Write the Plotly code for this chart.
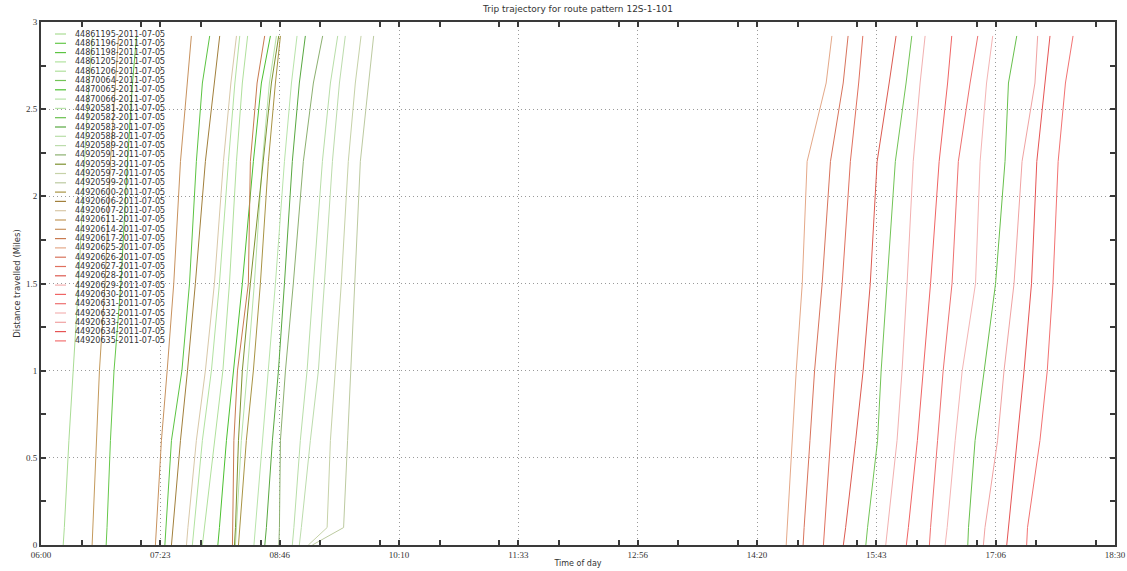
import plotly.graph_objects as go

service_date = "2011-07-05"
chart_title = "Trip trajectory for route pattern 12S-1-101"
x_title = "Time of day"
y_title = "Distance travelled (Miles)"

# Distance along the route (miles) at which each trip's passing time is logged
stop_miles = [0, 0.1, 0.6, 1.0, 1.5, 2.2, 2.65, 2.92]

trip_ids = [
    "44861195", "44861196", "44861198", "44861205", "44861206",
    "44870064", "44870065", "44870066", "44920581", "44920582",
    "44920583", "44920588", "44920589", "44920591", "44920593",
    "44920597", "44920599", "44920600", "44920606", "44920607",
    "44920611", "44920614", "44920617", "44920625", "44920626",
    "44920627", "44920628", "44920629", "44920630", "44920631",
    "44920632", "44920633", "44920634", "44920635",
]

trip_colors = [
    "#a9dc94", "#66c84a", "#5cc442", "#b2e2a0", "#b0e09c",
    "#72c456", "#4cc030", "#b6e2a8", "#b8e4aa", "#68c04c",
    "#58a840", "#b8dea8", "#bcdcac", "#8cb070", "#7e9230",
    "#c6d2a8", "#bccaa0", "#a89444", "#a2803c", "#d8c8a8",
    "#c49a5c", "#c8925e", "#c87a50", "#e4a888", "#d8735c",
    "#e0705e", "#dc5a50", "#f2b0b0", "#f06464", "#ee7070",
    "#f4b4b4", "#f0a2a2", "#e65454", "#f27272",
]

# Passing time of every trip at each entry of stop_miles
trip_times = [
    ["06:15:30", "06:16:18", "06:19:30", "06:22:18", "06:26:12", "06:30:24", "06:33:30", "06:35:54"],
    ["06:45:30", "06:46:06", "06:48:30", "06:51:00", "06:55:48", "07:00:24", "07:03:54", "07:06:42"],
    ["07:26:30", "07:27:12", "07:31:06", "07:38:24", "07:43:42", "07:48:30", "07:52:42", "07:57:48"],
    ["07:45:42", "07:46:48", "07:52:42", "07:59:00", "08:04:36", "08:10:54", "08:15:24", "08:18:48"],
    ["07:52:42", "07:54:06", "08:01:06", "08:07:00", "08:11:36", "08:16:30", "08:20:36", "08:24:18"],
    ["15:36:00", "15:37:12", "15:44:12", "15:46:42", "15:50:48", "15:56:36", "16:04:06", "16:08:06"],
    ["08:03:30", "08:04:36", "08:09:30", "08:14:24", "08:20:36", "08:28:18", "08:33:54", "08:40:12"],
    ["08:15:48", "08:16:30", "08:19:54", "08:24:06", "08:29:00", "08:34:36", "08:39:30", "08:44:24"],
    ["08:28:42", "08:29:42", "08:34:36", "08:38:48", "08:43:42", "08:50:00", "08:54:54", "08:58:48"],
    ["16:47:12", "16:47:42", "16:52:18", "16:58:30", "17:06:36", "17:13:12", "17:15:36", "17:21:24"],
    ["08:36:18", "08:37:24", "08:41:36", "08:45:48", "08:50:00", "08:55:30", "09:00:24", "09:04:36"],
    ["08:55:30", "08:56:36", "09:01:06", "09:05:48", "09:10:12", "09:16:30", "09:22:06", "09:27:12"],
    ["09:00:24", "09:01:48", "09:08:06", "09:13:42", "09:17:54", "09:23:30", "09:28:24", "09:32:30"],
    ["08:46:06", "08:46:30", "08:47:12", "08:50:42", "08:56:12", "09:03:12", "09:10:12", "09:16:42"],
    ["08:15:06", "08:15:48", "08:17:54", "08:20:36", "08:26:12", "08:35:00", "08:40:54", "08:46:00"],
    ["09:06:42", "09:19:48", "09:22:06", "09:25:36", "09:29:42", "09:34:36", "09:39:30", "09:43:30"],
    ["09:09:30", "09:31:18", "09:34:06", "09:36:24", "09:39:12", "09:43:00", "09:48:48", "09:52:18"],
    ["08:17:54", "08:18:54", "08:23:24", "08:28:18", "08:33:12", "08:38:48", "08:43:42", "08:47:12"],
    ["07:31:06", "07:32:06", "07:37:24", "07:42:18", "07:47:48", "07:54:48", "08:01:06", "08:04:48"],
    ["07:41:36", "07:42:36", "07:48:30", "07:54:48", "08:01:06", "08:07:24", "08:12:36", "08:16:30"],
    ["06:35:42", "06:36:12", "06:38:24", "06:40:48", "06:44:42", "06:48:30", "06:52:00", "06:54:06"],
    ["07:19:54", "07:20:36", "07:24:06", "07:28:06", "07:32:42", "07:37:24", "07:42:00", "07:45:00"],
    ["08:13:42", "08:13:48", "08:14:42", "08:17:12", "08:24:48", "08:26:12", "08:30:54", "08:36:12"],
    ["14:40:24", "14:41:06", "14:44:12", "14:47:24", "14:51:36", "14:55:00", "15:08:18", "15:12:18"],
    ["14:52:12", "14:52:54", "14:57:00", "15:00:12", "15:05:30", "15:11:18", "15:20:12", "15:23:36"],
    ["15:06:24", "15:07:12", "15:11:06", "15:14:36", "15:19:30", "15:25:12", "15:31:00", "15:33:54"],
    ["15:20:18", "15:21:54", "15:28:54", "15:34:06", "15:39:06", "15:43:54", "15:52:18", "15:57:06"],
    ["15:49:54", "15:51:12", "15:57:48", "16:01:18", "16:04:48", "16:09:06", "16:13:54", "16:17:24"],
    ["16:04:18", "16:05:42", "16:12:00", "16:16:12", "16:21:12", "16:27:12", "16:33:06", "16:36:00"],
    ["16:20:24", "16:21:12", "16:26:06", "16:30:00", "16:36:12", "16:40:36", "16:48:48", "16:54:12"],
    ["16:31:24", "16:32:48", "16:38:24", "16:43:18", "16:52:36", "16:55:48", "17:00:18", "17:04:36"],
    ["16:58:06", "16:59:12", "17:08:00", "17:12:30", "17:19:30", "17:25:06", "17:34:06", "17:36:00"],
    ["17:14:24", "17:15:36", "17:21:36", "17:26:30", "17:31:42", "17:35:24", "17:41:06", "17:44:36"],
    ["17:28:18", "17:28:54", "17:37:36", "17:42:42", "17:46:42", "17:50:18", "17:55:24", "18:00:42"],
]

W, H = 1127, 571
M_L, M_R, M_T, M_B = 41, 12, 22, 26
plot_w = W - M_L - M_R
plot_h = H - M_T - M_B

AXIS_COLOR = "#3a3a3a"
TEXT_COLOR = "#333333"
SANS = "DejaVu Sans"
SERIF = "Liberation Serif"

fig = go.Figure()

for tid, color, times in zip(trip_ids, trip_colors, trip_times):
    fig.add_trace(go.Scatter(
        x=[f"{service_date} {t}" for t in times],
        y=stop_miles,
        mode="lines",
        line=dict(color=color, width=1),
        name=f"{tid}-{service_date}",
        showlegend=False,
        hoverinfo="skip",
    ))

# Compact legend drawn inside the top-left corner of the axes
legend_top_px = 12      # first entry, measured down from the top of the axes
legend_step_px = 9.3
swatch_x0, swatch_x1, text_x = 14, 25, 32   # px from the left of the axes
annotations = []
shapes = []
for i, (tid, color) in enumerate(zip(trip_ids, trip_colors)):
    yp = 1 - (legend_top_px + i * legend_step_px) / plot_h
    shapes.append(dict(
        type="line", xref="paper", yref="paper",
        x0=swatch_x0 / plot_w, x1=swatch_x1 / plot_w, y0=yp, y1=yp,
        line=dict(color=color, width=1.2),
    ))
    annotations.append(dict(
        xref="paper", yref="paper", x=text_x / plot_w, y=yp,
        xanchor="left", yanchor="middle", showarrow=False,
        text=f"{tid}-{service_date}",
        font=dict(family=SANS, size=8, color=TEXT_COLOR),
    ))

axis_common = dict(
    showline=True, linecolor=AXIS_COLOR, linewidth=2, mirror="allticks",
    ticks="inside", ticklen=5, tickwidth=1.5, tickcolor=AXIS_COLOR,
    showgrid=True, gridcolor="#9a9a9a", griddash="1px,3px", gridwidth=1,
    zeroline=False, automargin=False,
    tickfont=dict(family=SERIF, size=9, color=TEXT_COLOR),
)

fig.update_layout(
    width=W, height=H,
    margin=dict(l=M_L, r=M_R, t=M_T, b=M_B),
    paper_bgcolor="white", plot_bgcolor="white",
    title=dict(text=chart_title, x=0.5, xref="paper", y=1 - 9 / H, yanchor="middle",
               font=dict(family=SANS, size=9, color=TEXT_COLOR)),
    xaxis=dict(
        type="date",
        range=[f"{service_date} 06:00", f"{service_date} 18:30"],
        tick0=f"{service_date} 06:00", dtick=5000000, tickformat="%H:%M",
        minor=dict(dtick=2500000, ticks="inside", ticklen=5, tickwidth=1.5,
                   tickcolor=AXIS_COLOR, showgrid=False),
        title=dict(text=x_title, standoff=2, font=dict(family=SANS, size=8, color=TEXT_COLOR)),
        **axis_common,
    ),
    yaxis=dict(
        range=[0, 3], tick0=0, dtick=0.5,
        minor=dict(dtick=0.25, ticks="inside", ticklen=5, tickwidth=1.5,
                   tickcolor=AXIS_COLOR, showgrid=False),
        title=dict(text=y_title, standoff=4, font=dict(family=SANS, size=8.5, color=TEXT_COLOR)),
        **axis_common,
    ),
    annotations=annotations,
    shapes=shapes,
    showlegend=False,
)

fig.write_html("out.html")
